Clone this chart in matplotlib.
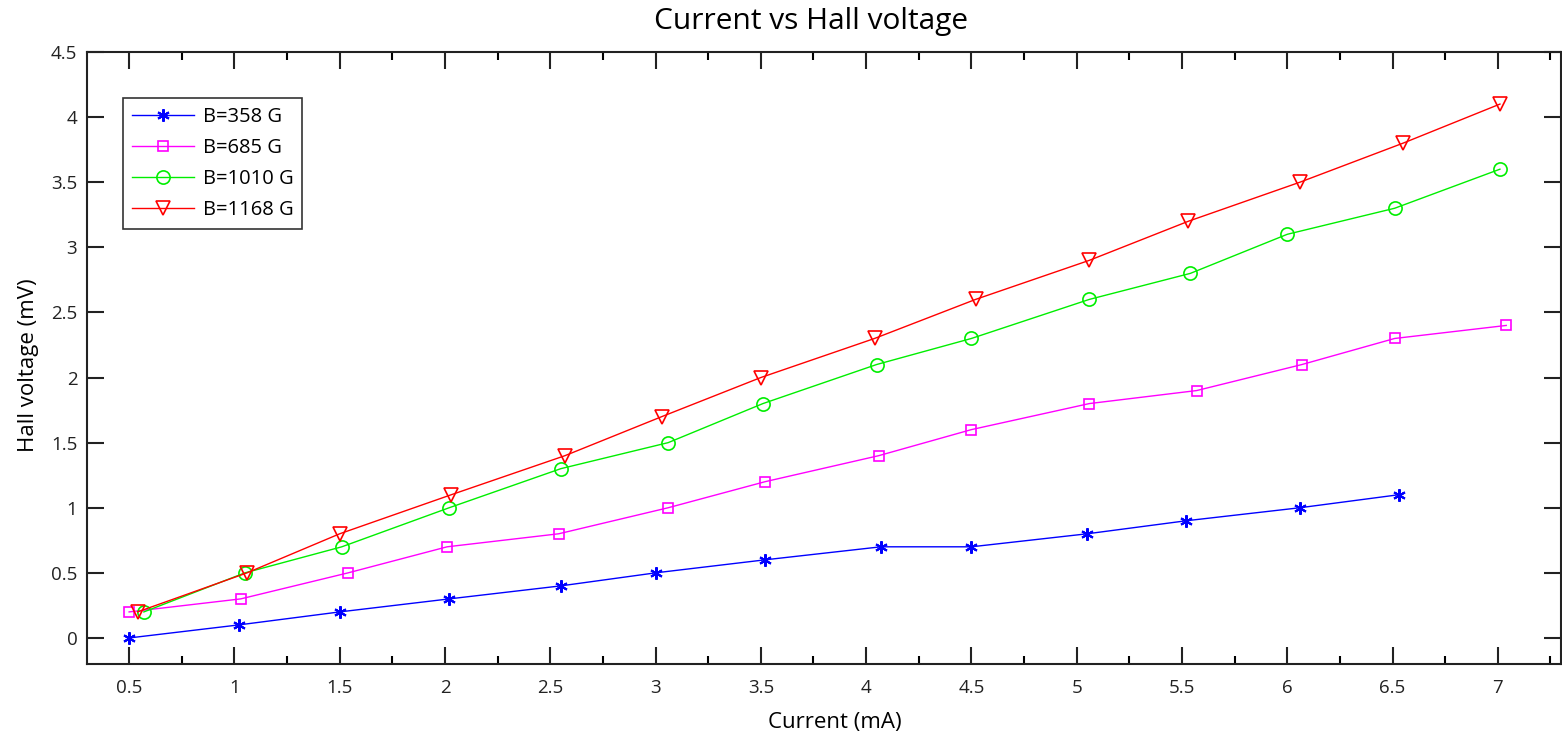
import matplotlib
matplotlib.use("Agg")
import matplotlib.pyplot as plt
from matplotlib.ticker import MultipleLocator

plt.rcParams['font.family'] = ['Open Sans', 'DejaVu Sans']

# Data
x_358 = [0.50, 1.02, 1.50, 2.02, 2.55, 3.00, 3.52, 4.07, 4.50, 5.05, 5.52, 6.06, 6.53]
y_358 = [0.0, 0.1, 0.2, 0.3, 0.4, 0.5, 0.6, 0.7, 0.7, 0.8, 0.9, 1.0, 1.1]

x_685 = [0.50, 1.03, 1.54, 2.01, 2.54, 3.06, 3.52, 4.06, 4.50, 5.06, 5.57, 6.07, 6.51, 7.04]
y_685 = [0.2, 0.3, 0.5, 0.7, 0.8, 1.0, 1.2, 1.4, 1.6, 1.8, 1.9, 2.1, 2.3, 2.4]

x_1010 = [0.57, 1.05, 1.51, 2.02, 2.55, 3.06, 3.51, 4.05, 4.50, 5.06, 5.54, 6.00, 6.51, 7.01]
y_1010 = [0.2, 0.5, 0.7, 1.0, 1.3, 1.5, 1.8, 2.1, 2.3, 2.6, 2.8, 3.1, 3.3, 3.6]

x_1168 = [0.54, 1.06, 1.50, 2.03, 2.57, 3.03, 3.50, 4.04, 4.52, 5.06, 5.53, 6.06, 6.55, 7.01]
y_1168 = [0.2, 0.5, 0.8, 1.1, 1.4, 1.7, 2.0, 2.3, 2.6, 2.9, 3.2, 3.5, 3.8, 4.1]

labels = ['B=358 G', 'B=685 G', 'B=1010 G', 'B=1168 G']
xticks = [0.5, 1, 1.5, 2, 2.5, 3, 3.5, 4, 4.5, 5, 5.5, 6, 6.5, 7]
xticklabels = ['0.5', '1', '1.5', '2', '2.5', '3', '3.5', '4', '4.5', '5', '5.5', '6', '6.5', '7']
yticks = [0, 0.5, 1, 1.5, 2, 2.5, 3, 3.5, 4, 4.5]
yticklabels = ['0', '0.5', '1', '1.5', '2', '2.5', '3', '3.5', '4', '4.5']
title = 'Current vs Hall voltage'
xlabel = 'Current (mA)'
ylabel = 'Hall voltage (mV)'

fig = plt.figure(figsize=(15.62, 7.37), dpi=100)
ax = fig.add_axes([87/1562, 73/737, (1561-87)/1562, (664-52)/737])

ax.plot(x_358, y_358, color='#0000ff', lw=1.0, marker=(6, 2, 0), ms=9, mew=1.5,
        label=labels[0])
ax.plot(x_685, y_685, color='#ff00ff', lw=1.0, marker='s', ms=7.5, mfc='none', mew=1.2,
        label=labels[1])
ax.plot(x_1010, y_1010, color='#00ee00', lw=1.0, marker='o', ms=9.5, mfc='none', mew=1.2,
        label=labels[2])
ax.plot(x_1168, y_1168, color='#ff0000', lw=1.0, marker='v', ms=10.5, mfc='none', mew=1.2,
        label=labels[3])

ax.set_xlim(0.3, 7.3)
ax.set_ylim(-0.2, 4.5)
ax.set_xticks(xticks)
ax.set_xticklabels(xticklabels)
ax.set_yticks(yticks)
ax.set_yticklabels(yticklabels)
ax.xaxis.set_minor_locator(MultipleLocator(0.25))

ax.tick_params(axis='both', which='major', direction='in', length=12, width=1.5,
               labelsize=13.5, top=True, right=True, colors='#222222')
ax.tick_params(axis='x', which='major', pad=11)
ax.tick_params(axis='y', which='major', pad=7)
ax.tick_params(axis='both', which='minor', direction='in', length=6, width=1.5,
               top=True, right=True)
for s in ax.spines.values():
    s.set_linewidth(1.5)
    s.set_color('#222222')

fig.text(811/1562, (737-22)/737, title, fontsize=21.5, ha='center', va='center')
ax.set_xlabel(xlabel, fontsize=16)
ax.xaxis.set_label_coords(0.5075, -0.096)
ax.set_ylabel(ylabel, fontsize=16)
ax.yaxis.set_label_coords(-0.0395, 0.4886)
ax.yaxis.label.set_verticalalignment('center')
ax.xaxis.label.set_verticalalignment('center')

leg = ax.legend(loc='upper left', bbox_to_anchor=((123-87)/1474, (664-98)/612),
                fontsize=14.5, frameon=True, fancybox=False, handlelength=3.1,
                borderpad=0.45, labelspacing=0.55, handletextpad=0.4, borderaxespad=0)
leg.get_frame().set_edgecolor('black')
leg.get_frame().set_linewidth(1.2)

fig.savefig('out.png', dpi=100)
